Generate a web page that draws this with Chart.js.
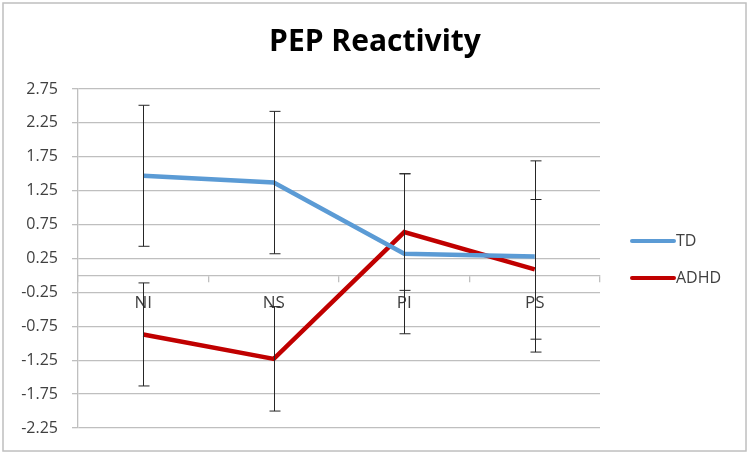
<!DOCTYPE html>
<html>
<head>
<meta charset="utf-8">
<script src="https://cdn.jsdelivr.net/npm/chart.js@4"></script>
<style>
  body{margin:0;background:#fff;}
  #wrap{width:750px;height:455px;position:relative;}
</style>
</head>
<body>
<div id="wrap"><canvas id="miGrafica" width="750" height="455"></canvas></div>
<script>
// datos de la grafica
const categorias=['NI','NS','PI','PS'];
const valoresTD=[1.47,1.37,0.32,0.28];
const valoresADHD=[-0.87,-1.23,0.64,0.09];
const errorTD=[1.04,1.05,1.18,1.41];
const errorADHD=[0.76,0.77,0.86,1.03];
const ticksY=[-2.25,-1.75,-1.25,-0.75,-0.25,0.25,0.75,1.25,1.75,2.25,2.75];

const fuente="'Open Sans', sans-serif";
const gris='#bfbfbf';

// barras de error y leyenda
const extras={
  id:'extras',
  afterDatasetsDraw(chart){
    const {ctx,scales:{x,y}}=chart;
    const errores=[errorTD,errorADHD];
    ctx.save();
    ctx.strokeStyle='#262626';
    ctx.lineWidth=1;
    chart.data.datasets.forEach((ds,d)=>{
      ds.data.forEach((v,i)=>{
        const px=Math.round(x.getPixelForValue(i))+0.5;
        const top=y.getPixelForValue(v+errores[d][i]);
        const bot=y.getPixelForValue(v-errores[d][i]);
        ctx.beginPath();
        ctx.moveTo(px,top);ctx.lineTo(px,bot);
        ctx.moveTo(px-5,top);ctx.lineTo(px+6,top);
        ctx.moveTo(px-5,bot);ctx.lineTo(px+6,bot);
        ctx.stroke();
      });
    });
    ctx.restore();
  },
  afterDraw(chart){
    const {ctx}=chart;
    ctx.save();
    // borde exterior
    ctx.strokeStyle=gris;
    ctx.lineWidth=1.5;
    ctx.strokeRect(3,3,743,448);
    // leyenda
    ctx.font='16px '+fuente;
    ctx.textBaseline='middle';
    chart.data.datasets.forEach((ds,i)=>{
      const yy=241+i*37;
      ctx.strokeStyle=ds.borderColor;
      ctx.lineWidth=4;
      ctx.lineCap='round';
      ctx.beginPath();ctx.moveTo(632,yy);ctx.lineTo(674,yy);ctx.stroke();
      ctx.fillStyle='#404040';
      ctx.fillText(ds.label,676,yy);
    });
    ctx.restore();
  }
};

const ctx=document.getElementById('miGrafica');

new Chart(ctx,{
  type:'line',
  data:{
    labels:categorias,
    datasets:[
      {label:'TD',data:valoresTD,borderColor:'#5b9bd5',backgroundColor:'#5b9bd5',borderWidth:4.5,pointRadius:0,tension:0},
      {label:'ADHD',data:valoresADHD,borderColor:'#c00000',backgroundColor:'#c00000',borderWidth:4.5,pointRadius:0,tension:0}
    ]
  },
  options:{
    responsive:false,
    animation:false,
    layout:{padding:{left:0,right:0,top:0,bottom:27}},
    plugins:{
      legend:{display:false},
      tooltip:{enabled:false},
      title:{
        display:true,
        text:'PEP Reactivity',
        color:'#000',
        font:{family:fuente,size:30,weight:'bold'},
        padding:{top:24,bottom:29}
      }
    },
    scales:{
      x:{
        position:{y:0},
        offset:true,
        grid:{drawOnChartArea:false,offset:true,tickLength:6,color:gris,lineWidth:1.3},
        border:{color:gris,width:1.3},
        ticks:{color:'#404040',font:{family:fuente,size:17},padding:12}
      },
      y:{
        min:-2.25,
        max:2.75,
        afterBuildTicks:s=>{s.ticks=ticksY.map(v=>({value:v}));},
        afterFit:s=>{s.width=78;},
        grid:{color:gris,lineWidth:1.3,tickLength:6},
        border:{color:gris,width:1.3},
        ticks:{color:'#404040',font:{family:fuente,size:16},padding:14,callback:v=>v.toFixed(2)}
      },
      // espacio para la leyenda a la derecha
      espacio:{
        type:'linear',
        position:'right',
        grid:{display:false},
        border:{display:false},
        ticks:{display:false},
        afterFit:s=>{s.width=150;}
      }
    }
  },
  plugins:[extras]
});
</script>
</body>
</html>
